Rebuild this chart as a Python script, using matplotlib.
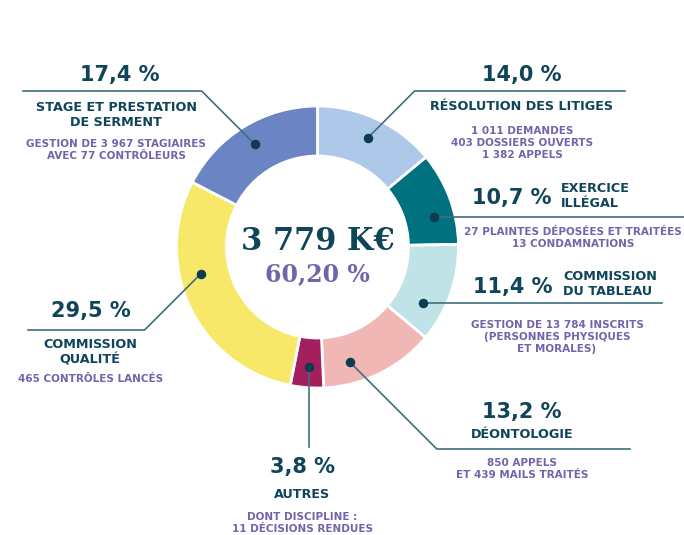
import numpy as np
import matplotlib.pyplot as plt

plt.rcParams['font.family'] = ['DejaVu Sans']

# data, clockwise from the top
shares = [14.0, 10.7, 11.4, 13.2, 3.8, 29.5, 17.4]
pct_labels = ['14,0 %', '10,7 %', '11,4 %', '13,2 %', '3,8 %', '29,5 %', '17,4 %']
titles = ['RÉSOLUTION DES LITIGES', 'EXERCICE\nILLÉGAL', 'COMMISSION\nDU TABLEAU',
          'DÉONTOLOGIE', 'AUTRES', 'COMMISSION\nQUALITÉ', 'STAGE ET PRESTATION\nDE SERMENT']
details = ['1 011 DEMANDES\n403 DOSSIERS OUVERTS\n1 382 APPELS',
           '27 PLAINTES DÉPOSÉES ET TRAITÉES\n13 CONDAMNATIONS',
           'GESTION DE 13 784 INSCRITS\n(PERSONNES PHYSIQUES\nET MORALES)',
           '850 APPELS\nET 439 MAILS TRAITÉS',
           'DONT DISCIPLINE :\n11 DÉCISIONS RENDUES',
           '465 CONTRÔLES LANCÉS',
           'GESTION DE 3 967 STAGIAIRES\nAVEC 77 CONTRÔLEURS']
total_label = '3 779 K€'
total_share = '60,20 %'

colors = ['#aec8ea', '#00717f', '#bfe3e6', '#f0b7b4', '#a31f5d', '#f8e86a', '#6a84c4']
dark = '#0f4459'
purple = '#7463ab'
line_col = '#406e80'

# label layout (pixel coords, y down)
# frac: where the dot sits inside the slice; lead: leader kind, ly: leader level, lx: leader end
layout = [
    dict(frac=0.49, lead='diag', ly=91, lx=625, pct=(522, 75, 'center'), title=(522, 106, 'center'), det=(522, 143)),
    dict(frac=0.65, lead='horiz', ly=None, lx=690, pct=(512, 198, 'center'), title=(561, 196, 'left'), det=(573, 238)),
    dict(frac=0.71, lead='horiz', ly=None, lx=662, pct=(513, 287, 'center'), title=(563, 284, 'left'), det=(557, 337)),
    dict(frac=0.72, lead='diag', ly=449, lx=630, pct=(522, 412, 'center'), title=(522, 434, 'center'), det=(522, 469)),
    dict(frac=0.47, lead='vert', ly=447, lx=None, pct=(302, 467, 'center'), title=(302, 494, 'center'), det=(302, 523)),
    dict(frac=0.62, lead='diag', ly=330, lx=28, pct=(91, 311, 'center'), title=(90, 352, 'center'), det=(91, 379)),
    dict(frac=0.50, lead='diag', ly=91, lx=23, pct=(120, 75, 'center'), title=(116, 115, 'center'), det=(116, 150)),
]

cx, cy = 317.5, 247
r_out, ring = 141, 50
r_dot = 120

fig = plt.figure(figsize=(6.84, 5.35), dpi=100)
ax = fig.add_axes([0, 0, 1, 1])

# y axis is inverted, so counterclock in data space is clockwise on screen
ax.pie(shares, colors=colors, startangle=-90, counterclock=True, radius=r_out,
       center=(cx, cy), wedgeprops=dict(width=ring, edgecolor='white', linewidth=2))
ax.set_xlim(0, 684)
ax.set_ylim(535, 0)
ax.set_aspect('equal')
ax.axis('off')

cum = np.concatenate([[0], np.cumsum(shares)])
for i, lay in enumerate(layout):
    theta = np.radians((cum[i] + lay['frac'] * shares[i]) * 3.6)
    dx, dy = cx + r_dot * np.sin(theta), cy - r_dot * np.cos(theta)

    if lay['lead'] == 'diag':
        ex = dx + np.sign(lay['lx'] - dx) * abs(lay['ly'] - dy)
        xs, ys = [dx, ex, lay['lx']], [dy, lay['ly'], lay['ly']]
    elif lay['lead'] == 'horiz':
        xs, ys = [dx, lay['lx']], [dy, dy]
    else:
        xs, ys = [dx, dx], [dy, lay['ly']]
    ax.plot(xs, ys, color=line_col, lw=1.2, zorder=3, clip_on=False)
    ax.scatter([dx], [dy], s=34, color='#0b3c50', zorder=4)

    px, py, pha = lay['pct']
    ax.text(px, py, pct_labels[i], ha=pha, va='center', fontsize=15,
            fontweight='bold', color=dark)
    tx, ty, tha = lay['title']
    ax.text(tx, ty, titles[i], ha=tha, va='center', fontsize=9.2, fontweight='bold',
            color=dark, linespacing=1.25, multialignment=tha)
    qx, qy = lay['det']
    ax.text(qx, qy, details[i], ha='center', va='center', fontsize=7.5, fontweight='bold',
            color=purple, linespacing=1.2, multialignment='center')

ax.text(cx, cy - 6, total_label, ha='center', va='center', fontsize=22,
        fontweight='bold', family='DejaVu Serif', color=dark)
ax.text(cx, cy + 27, total_share, ha='center', va='center', fontsize=17,
        fontweight='bold', family='DejaVu Serif', color=purple)

fig.savefig('out.png', dpi=100)
